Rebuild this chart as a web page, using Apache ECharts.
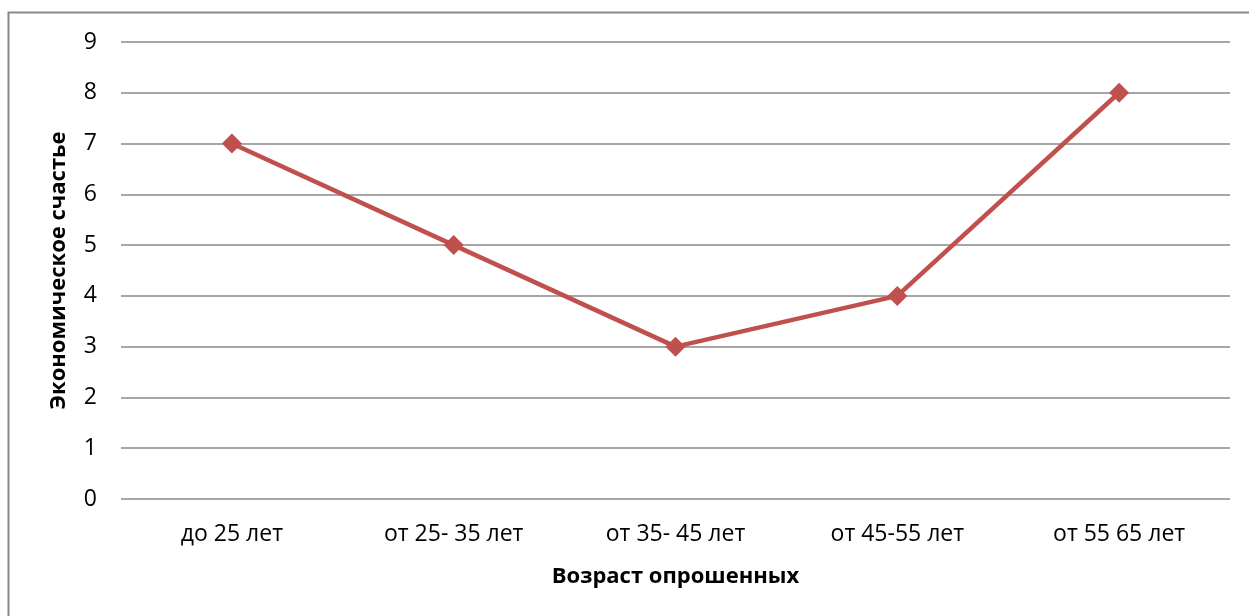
<!DOCTYPE html>
<html><head><meta charset="utf-8">
<script src="https://cdn.jsdelivr.net/npm/echarts@6/dist/echarts.min.js"></script>
<style>html,body{margin:0;padding:0;background:#fff}#c{width:1249px;height:616px}</style>
</head><body><div id="c"></div>
<script>
const categories = ['до 25 лет', 'от 25- 35 лет', 'от 35- 45 лет', 'от 45-55 лет', 'от 55 65 лет'];
const values = [7, 5, 3, 4, 8];
const xTitle = 'Возраст опрошенных';
const yTitle = 'Экономическое счастье';
const font = '"Open Sans", "DejaVu Sans", sans-serif';
const chart = echarts.init(document.getElementById('c'), null, {renderer: 'canvas'});
chart.setOption({
  animation: false,
  backgroundColor: '#fff',
  graphic: [{type: 'rect', shape: {x: 8.5, y: 12.5, width: 1300, height: 700}, style: {fill: 'none', stroke: '#888', lineWidth: 2}, z: -1}],
  grid: {left: 121, right: 19, top: 42, bottom: 117},
  xAxis: {
    type: 'category', data: categories, boundaryGap: true,
    axisLine: {show: false}, axisTick: {show: false},
    axisLabel: {color: '#000', fontSize: 23, fontFamily: font, margin: 24},
    name: xTitle, nameLocation: 'middle', nameGap: 67,
    nameTextStyle: {color: '#000', fontSize: 22, fontWeight: 'bold', fontFamily: font}
  },
  yAxis: {
    type: 'value', min: 0, max: 9, interval: 1,
    axisLine: {show: false}, axisTick: {show: false},
    axisLabel: {color: '#000', fontSize: 23, fontFamily: font, margin: 24},
    splitLine: {lineStyle: {color: '#888', width: 1.5}},
    name: yTitle, nameLocation: 'middle', nameGap: 51, nameRotate: 90,
    nameTextStyle: {color: '#000', fontSize: 22, fontWeight: 'bold', fontFamily: font}
  },
  series: [{
    type: 'line', data: values,
    lineStyle: {color: '#C0504D', width: 4.5},
    itemStyle: {color: '#C0504D'},
    symbol: 'diamond', symbolSize: 20
  }]
});
</script></body></html>
